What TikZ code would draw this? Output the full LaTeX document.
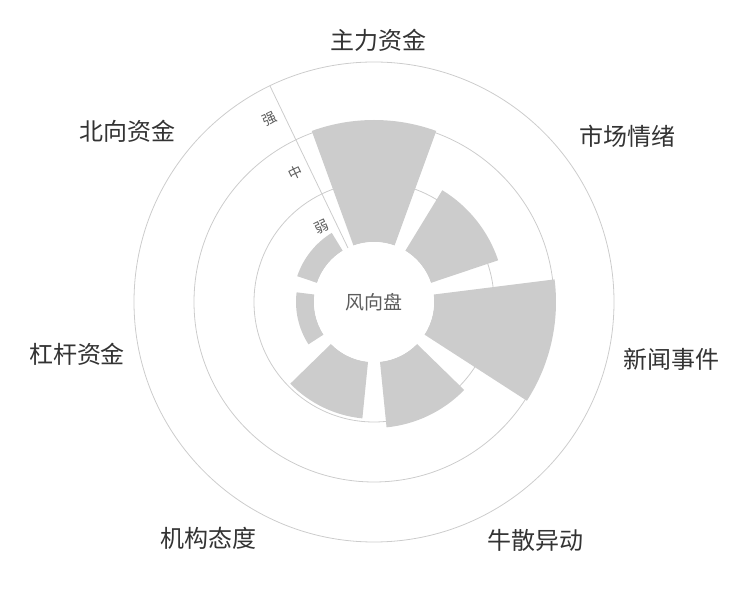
\documentclass[tikz,border=0pt]{standalone}
\usepackage{fontspec}
\usetikzlibrary{calc}
\newfontfamily\cjk{Noto Sans CJK SC}
\definecolor{bar}{HTML}{CCCCCC}
\definecolor{grid}{HTML}{CCCCCC}
\definecolor{txt}{HTML}{333333}
\tikzset{
  ring/.style={draw=grid, line width=0.8pt},
  barfill/.style={fill=bar, draw=none},
  cat/.style={font=\cjk\fontsize{24}{26}\selectfont, text=txt},
  tick/.style={font=\cjk\fontsize{14}{16}\selectfont, text=txt!80, rotate=25.7}
}
\newcommand{\polbar}[2]{% angle, outer radius
  \fill[barfill] ({#1-20}:60) arc[start angle={#1-20}, end angle={#1+20}, radius=60]
    -- ({#1+20}:#2) arc[start angle={#1+20}, end angle={#1-20}, radius=#2] -- cycle;}
\begin{document}
\begin{tikzpicture}[x=1pt,y=1pt]
\useasboundingbox (0,0) rectangle (750,600);
\begin{scope}[shift={(374,298)}]
  \draw[ring] (0,0) circle[radius=240];
  \draw[ring] (0,0) circle[radius=180];
  \draw[ring] (0,0) circle[radius=120];
  \polbar{90}{182}
  \polbar{38.57}{131}
  \polbar{-12.86}{182}
  \polbar{-64.29}{126}
  \polbar{-115.71}{117}
  \polbar{-167.14}{78}
  \polbar{141.43}{81}
  \fill[white] (0,0) circle[radius=60];
  \draw[ring] (115.71:60) -- (115.71:240);
  \node[tick] (t1) at ($(115.71:90)+(-13,-6)$) {弱};
  \node[tick] (t2) at ($(115.71:150)+(-13,-6)$) {中};
  \node[tick] (t3) at ($(115.71:210)+(-13,-6)$) {强};
  \node[font=\cjk\fontsize{19}{21}\selectfont, text=txt!80] (c) at (0,0) {风向盘};
\end{scope}
\node[cat] (l1) at (378,560) {主力资金};
\node[cat] (l2) at (627,464) {市场情绪};
\node[cat] (l3) at (671,241) {新闻事件};
\node[cat] (l4) at (535,60) {牛散异动};
\node[cat] (l5) at (208,62) {机构态度};
\node[cat] (l6) at (77,246) {杠杆资金};
\node[cat] (l7) at (127,469) {北向资金};
\end{tikzpicture}
\end{document}
